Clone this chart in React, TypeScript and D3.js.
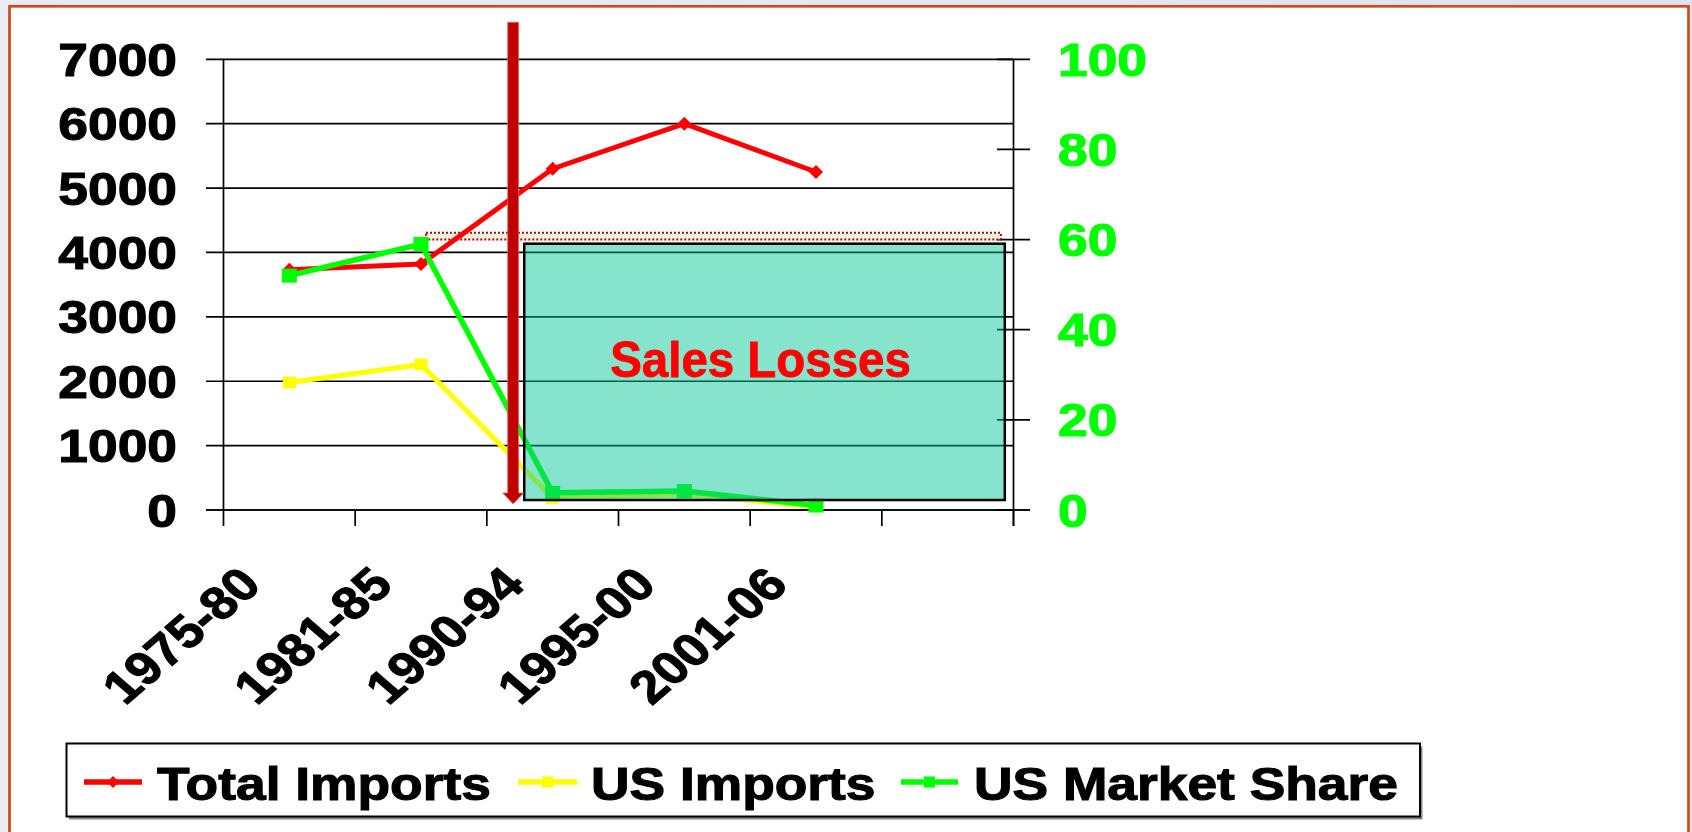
import React from "react";
import * as d3 from "d3";

const categories = ["1975-80", "1981-85", "1990-94", "1995-00", "2001-06", ""];
const totalImports: (number | null)[] = [3730, 3820, 5300, 6000, 5250, null];
const usImports: (number | null)[] = [1980, 2260, 190, 240, 55, null];
const usMarketShare: (number | null)[] = [52, 59, 3.8, 4.2, 1.0, null];
const leftTicks = [0, 1000, 2000, 3000, 4000, 5000, 6000, 7000];
const rightTicks = [0, 20, 40, 60, 80, 100];
const seriesNames = ["Total Imports", "US Imports", "US Market Share"];
const annotationText = "Sales Losses";

const W = 1692;
const H = 832;
const X0 = 223.5;
const X1 = 1013.5;
const YT = 59.3;
const YB = 510;
const SX = 1.16;
const FONT = "'Liberation Sans', Arial, Helvetica, sans-serif";
const FS = 46;
const TSW = 1.1; // extra text weight

const RED = "#ff0000";
const YEL = "#ffff00";
const GRN = "#00ff00";

export default function App() {
  const x = d3.scaleBand<string>().domain(categories).range([X0, X1]).padding(0);
  const bw = x.bandwidth();
  const pos = (p: number) => X0 + p * bw; // fractional category position
  const yL = d3.scaleLinear().domain([0, 7000]).range([YB, YT]);
  const yR = d3.scaleLinear().domain([0, 100]).range([YB, YT]);
  const cx = (i: number) => (x(categories[i]) as number) + bw / 2;

  const lineL = d3
    .line<number | null>()
    .defined((d) => d != null)
    .x((_, i) => cx(i))
    .y((d) => yL(d as number));
  const lineR = d3
    .line<number | null>()
    .defined((d) => d != null)
    .x((_, i) => cx(i))
    .y((d) => yR(d as number));

  const diamond = (px: number, py: number, r: number) =>
    `M${px},${py - r}L${px + r},${py}L${px},${py + r}L${px - r},${py}Z`;

  // annotation geometry in data units
  const arrowX = pos(2.2);
  const arrowTop = yL(7575);
  const arrowTip = yL(95);
  const headTop = arrowTip - 11;
  const boxX0 = pos(2.284);
  const boxX1 = pos(5.934);
  const boxY0 = yL(4136);
  const boxY1 = yL(155);
  const dotX0 = pos(1.538);
  const dotX1 = pos(5.904);
  const dotY0 = yL(4305);
  const dotY1 = yL(4203);

  const legendY = 782;
  const legendItems = [
    { name: seriesNames[0], color: RED, x0: 84, x1: 142, tx: 157, marker: "diamond" },
    { name: seriesNames[1], color: YEL, x0: 518, x1: 577, tx: 591, marker: "square" },
    { name: seriesNames[2], color: GRN, x0: 901, x1: 958, tx: 974, marker: "square" },
  ];

  return (
    <svg
      width={W}
      height={H}
      viewBox={`0 0 ${W} ${H}`}
      style={{ position: "absolute", left: 0, top: 0, display: "block" }}
      fontFamily={FONT}
    >
      <defs>
        <linearGradient id="bg" x1="0" y1="0" x2="1" y2="0">
          <stop offset="0" stopColor="#e9edf3" />
          <stop offset="1" stopColor="#dfe4ec" />
        </linearGradient>
      </defs>
      <rect x={0} y={0} width={W} height={H} fill="url(#bg)" />
      <rect x={9.5} y={6.3} width={1679} height={840} fill="#ffffff" stroke="#d4481c" strokeWidth={2.7} />

      {/* gridlines & left ticks */}
      {leftTicks.map((t) => (
        <line key={"g" + t} x1={206} x2={X1} y1={yL(t)} y2={yL(t)} stroke="#000" strokeWidth={1.7} />
      ))}
      {/* left axis */}
      <line x1={X0} x2={X0} y1={YT} y2={526} stroke="#000" strokeWidth={1.7} />
      {/* right axis */}
      <line x1={X1} x2={X1} y1={YT} y2={526} stroke="#000" strokeWidth={1.7} />
      {rightTicks.map((t) => (
        <line key={"r" + t} x1={997} x2={1030} y1={yR(t)} y2={yR(t)} stroke="#000" strokeWidth={1.7} />
      ))}
      {/* x axis */}
      <line x1={206} x2={1030} y1={YB} y2={YB} stroke="#000" strokeWidth={1.7} />
      {categories.map((c, i) => (
        <line
          key={"xt" + i}
          x1={(x(c) as number) + bw}
          x2={(x(c) as number) + bw}
          y1={YB}
          y2={526}
          stroke="#000"
          strokeWidth={1.7}
        />
      ))}

      {/* left tick labels */}
      {leftTicks.map((t) => (
        <text
          key={"lt" + t}
          transform={`translate(177,${yL(t) + 16.5}) scale(${SX},1)`}
          textAnchor="end"
          fontSize={FS}
          fontWeight="bold"
          fill="#000"
          stroke="#000"
          strokeWidth={TSW}
        >
          {t}
        </text>
      ))}
      {/* right tick labels */}
      {rightTicks.map((t) => (
        <text
          key={"rt" + t}
          transform={`translate(1058,${yR(t) + 16.5}) scale(${SX},1)`}
          textAnchor="start"
          fontSize={FS}
          fontWeight="bold"
          fill={GRN}
          stroke={GRN}
          strokeWidth={TSW}
        >
          {t}
        </text>
      ))}
      {/* category labels */}
      {categories.map((c, i) =>
        c ? (
          <text
            key={"cl" + i}
            transform={`translate(${cx(i) - 26},587) scale(${SX},1) rotate(-45)`}
            textAnchor="end"
            fontSize={FS}
            fontWeight="bold"
            fill="#000"
            stroke="#000"
            strokeWidth={TSW}
          >
            {c}
          </text>
        ) : null
      )}

      {/* dotted band */}
      <rect
        x={dotX0}
        y={dotY0}
        width={dotX1 - dotX0}
        height={dotY1 - dotY0}
        fill="#e6f5e0"
        stroke="#c00000"
        strokeWidth={2}
        strokeDasharray="2,2"
      />

      {/* series lines */}
      <path d={lineL(totalImports) || ""} fill="none" stroke={RED} strokeWidth={5} strokeLinejoin="round" />
      {totalImports.map((v, i) =>
        v == null ? null : <path key={"rm" + i} d={diamond(cx(i), yL(v), 7)} fill={RED} />
      )}
      <path d={lineL(usImports) || ""} fill="none" stroke={YEL} strokeWidth={5} strokeLinejoin="round" />
      {usImports.map((v, i) =>
        v == null ? null : (
          <rect key={"ym" + i} x={cx(i) - 6.5} y={yL(v) - 6} width={13} height={12} fill={YEL} />
        )
      )}
      <path d={lineR(usMarketShare) || ""} fill="none" stroke={GRN} strokeWidth={5.5} strokeLinejoin="round" />
      {usMarketShare.map((v, i) =>
        v == null ? null : (
          <rect key={"gm" + i} x={cx(i) - 7.5} y={yR(v) - 7} width={15} height={14} fill={GRN} />
        )
      )}

      {/* translucent box */}
      <rect
        x={boxX0}
        y={boxY0}
        width={boxX1 - boxX0}
        height={boxY1 - boxY0}
        fill="rgb(0,198,147)"
        fillOpacity={0.48}
        stroke="#000"
        strokeWidth={2.5}
      />
      <text
        transform={`translate(${(boxX0 + boxX1) / 2 - 4},${yL(2065)}) scale(1.01,1.06)`}
        textAnchor="middle"
        fontSize={47}
        fontWeight="bold"
        fill={RED}
        stroke={RED}
        strokeWidth={0.8}
      >
        {annotationText}
      </text>

      {/* vertical arrow */}
      <path
        d={`M${arrowX - 5.5},${arrowTop}L${arrowX + 5.5},${arrowTop}L${arrowX + 5.5},${headTop}L${arrowX + 10.5},${headTop}L${arrowX},${arrowTip}L${arrowX - 10.5},${headTop}L${arrowX - 5.5},${headTop}Z`}
        fill="#c00000"
        stroke="#e07070"
        strokeWidth={0.8}
      />

      {/* legend */}
      <rect x={69} y={746.5} width={1353.5} height={73} fill="#888" />
      <rect x={66.5} y={743.5} width={1353.5} height={73} fill="#fff" stroke="#000" strokeWidth={2} />
      {legendItems.map((it) => {
        const mx = (it.x0 + it.x1) / 2;
        return (
          <g key={it.name}>
            <line x1={it.x0} x2={it.x1} y1={legendY} y2={legendY} stroke={it.color} strokeWidth={5.5} />
            {it.marker === "diamond" ? (
              <path d={diamond(mx, legendY, 6)} fill={it.color} />
            ) : (
              <rect x={mx - 5.5} y={legendY - 5.5} width={11} height={11} fill={it.color} />
            )}
            <text
              transform={`translate(${it.tx},800) scale(${SX},1)`}
              fontSize={FS}
              fontWeight="bold"
              fill="#000"
              stroke="#000"
              strokeWidth={TSW}
            >
              {it.name}
            </text>
          </g>
        );
      })}
    </svg>
  );
}
